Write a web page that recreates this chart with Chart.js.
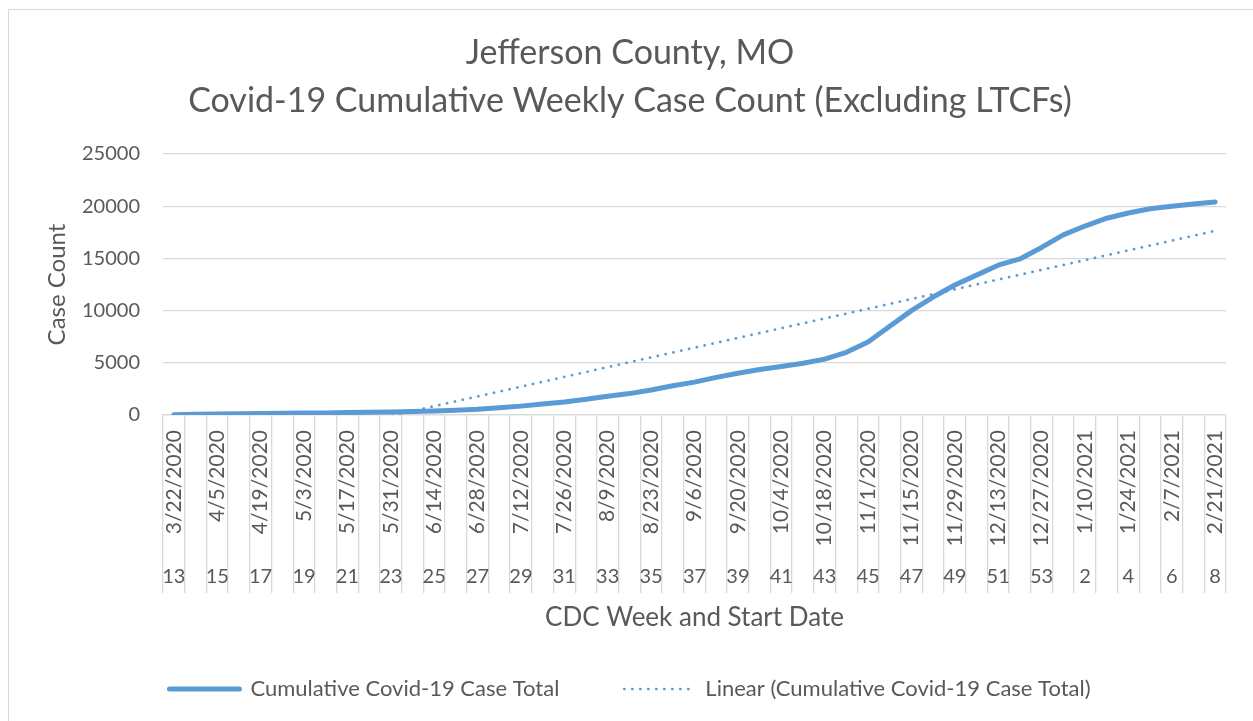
<!DOCTYPE html>
<html><head><meta charset="utf-8">
<script src="https://cdn.jsdelivr.net/npm/chart.js@4.4.1/dist/chart.umd.min.js"></script>
<style>
html,body{margin:0;padding:0;background:#fff;}
#wrap{position:relative;width:1253px;height:721px;overflow:hidden;}
#frame{position:absolute;left:8px;top:9px;right:-2px;bottom:-2px;border-top:1px solid #d9d9d9;border-left:1px solid #d9d9d9;}
canvas{position:absolute;left:0;top:0;}
</style></head><body>
<div id="wrap"><div id="frame"></div><canvas id="c" width="1253" height="721"></canvas></div>
<script>
// CDC week start dates (categories)
const dates = ['3/22/2020','3/29/2020','4/5/2020','4/12/2020','4/19/2020','4/26/2020','5/3/2020','5/10/2020','5/17/2020','5/24/2020',
  '5/31/2020','6/7/2020','6/14/2020','6/21/2020','6/28/2020','7/5/2020','7/12/2020','7/19/2020','7/26/2020','8/2/2020',
  '8/9/2020','8/16/2020','8/23/2020','8/30/2020','9/6/2020','9/13/2020','9/20/2020','9/27/2020','10/4/2020','10/11/2020',
  '10/18/2020','10/25/2020','11/1/2020','11/8/2020','11/15/2020','11/22/2020','11/29/2020','12/6/2020','12/13/2020','12/20/2020',
  '12/27/2020','1/3/2021','1/10/2021','1/17/2021','1/24/2021','1/31/2021','2/7/2021','2/14/2021','2/21/2021'];
// CDC week numbers (second category level)
const weeks = ['13','14','15','16','17','18','19','20','21','22',
  '23','24','25','26','27','28','29','30','31','32',
  '33','34','35','36','37','38','39','40','41','42',
  '43','44','45','46','47','48','49','50','51','52',
  '53','1','2','3','4','5','6','7','8'];
// Cumulative Covid-19 case total
const cases = [30,60,90,120,140,160,180,200,230,260,
  290,330,380,450,550,700,850,1050,1250,1500,
  1800,2050,2400,2800,3150,3600,4000,4350,4650,4950,
  5350,6000,7000,8500,10000,11300,12450,13400,14350,14950,
  16050,17250,18100,18850,19350,19750,20000,20200,20400];
const seriesName = 'Cumulative Covid-19 Case Total';
const trendName = 'Linear (Cumulative Covid-19 Case Total)';
const titleLines = ['Jefferson County, MO','Covid-19 Cumulative Weekly Case Count (Excluding LTCFs)'];

// least-squares linear trendline (Excel "Linear" trendline)
const n = cases.length;
const mx = (n - 1) / 2;
const my = cases.reduce((a, b) => a + b, 0) / n;
let sxy = 0, sxx = 0;
cases.forEach((v, i) => { sxy += (i - mx) * (v - my); sxx += (i - mx) * (i - mx); });
const slope = sxy / sxx, icpt = my - slope * mx;
const trend = cases.map((_, i) => icpt + slope * i);

const FONT = 'Lato';
const GREY = '#595959';
const GRID = '#d9d9d9';
const BLUE = '#5B9BD5';

new Chart(document.getElementById('c').getContext('2d'), {
  type: 'line',
  data: {
    labels: dates,
    datasets: [
      { label: seriesName, data: cases, borderColor: BLUE, backgroundColor: BLUE, borderWidth: 5,
        pointRadius: 0, tension: 0, borderCapStyle: 'round', borderJoinStyle: 'round', order: 1 },
      { label: trendName, data: trend, borderColor: BLUE, backgroundColor: BLUE, borderWidth: 2.75,
        borderDash: [0.1, 7.9], borderCapStyle: 'round', pointRadius: 0, tension: 0,
        clip: { left: 10, right: 10, top: 10, bottom: 0 }, order: 0 }
    ]
  },
  options: {
    responsive: false, animation: false, devicePixelRatio: 1,
    layout: { padding: { left: 34, right: 27, top: 0, bottom: 11 } },
    plugins: {
      title: { display: true, text: titleLines, color: GREY,
        font: { family: FONT, size: 34, weight: 'normal', lineHeight: 48 / 34 },
        padding: { top: 29, bottom: 29 } },
      legend: { position: 'bottom',
        labels: { usePointStyle: true, pointStyle: 'line', pointStyleWidth: 70, boxHeight: 20,
          color: GREY, font: { family: FONT, size: 22 }, padding: 65,
          generateLabels: (chart) => chart.data.datasets.map((ds, i) => ({
            text: ds.label, strokeStyle: ds.borderColor, fillStyle: ds.borderColor,
            lineWidth: ds.borderWidth, lineDash: ds.borderDash || [], lineCap: 'round',
            pointStyle: 'line', datasetIndex: i, hidden: false, fontColor: GREY })) } },
      tooltip: { enabled: false }
    },
    scales: {
      x: { type: 'category', position: 'bottom', weight: 0, offset: true,
        grid: { display: true, drawOnChartArea: false, drawTicks: true, tickLength: 130, offset: true, color: GRID, lineWidth: 1.3 },
        border: { display: true, color: GRID, width: 1.3 },
        ticks: { autoSkip: false, minRotation: 90, maxRotation: 90, padding: -115, color: GREY,
          font: { family: FONT, size: 21 }, callback: (v, i) => (i % 2 === 0 ? dates[i] : '') },
        afterFit: (s) => { s.height = 130; } },
      x2: { type: 'category', position: 'bottom', weight: 1, labels: weeks, offset: true,
        grid: { display: true, drawOnChartArea: false, drawTicks: true, tickLength: 48, offset: true, color: GRID, lineWidth: 1.3 },
        border: { display: false },
        ticks: { autoSkip: false, minRotation: 0, maxRotation: 0, padding: -28, color: GREY,
          font: { family: FONT, size: 20 }, callback: (v, i) => (i % 2 === 0 ? weeks[i] : '') },
        title: { display: true, text: 'CDC Week and Start Date', color: GREY,
          font: { family: FONT, size: 26 }, padding: { top: 0, bottom: -20 } },
        afterFit: (s) => { s.height = 68; } },
      y: { min: 0, max: 25000,
        ticks: { stepSize: 5000, color: GREY, font: { family: FONT, size: 20 }, padding: 23,
          callback: (v) => String(v) },
        grid: { color: GRID, lineWidth: 1.3, drawTicks: false },
        border: { display: false },
        title: { display: true, text: 'Case Count', color: GREY, font: { family: FONT, size: 24 },
          padding: { top: 9, bottom: 0 } },
        afterFit: (s) => { s.width = 129; } }
    }
  }
});
</script>
</body></html>
